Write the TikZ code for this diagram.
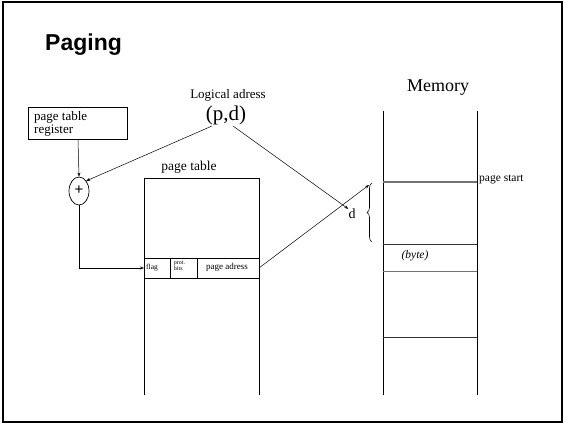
\documentclass[tikz,border=0pt]{standalone}
\usepackage{fontspec}
\setmainfont{Liberation Serif}
\newfontfamily\titlefont{Liberation Sans}
\usetikzlibrary{arrows.meta,decorations.pathreplacing,shapes.geometric}
\begin{document}
\begin{tikzpicture}[x=1pt,y=-1pt,
  line/.style={draw=black,line width=0.6pt},
  conn/.style={draw=black,line width=0.5pt,-{Stealth[length=4pt,width=3pt]}},
  lbl/.style={inner sep=0pt,font=\fontsize{#1}{#1}\selectfont},
  gline/.style={draw=black!55,line width=1.2pt}]
\useasboundingbox (0,0) rectangle (565,424);
% slide frame
\draw[line width=2pt] (3,2) rectangle (562,422);
\node[anchor=base west,inner sep=0pt,font=\titlefont\bfseries\fontsize{23}{23}\selectfont] (title) at (45,50) {Paging};

% page table register and adder
\node[line,draw,minimum width=99pt,minimum height=32pt,inner sep=0pt] (ptr) at (77.5,123) {};
\node[anchor=north west,align=left,inner sep=0pt,font=\fontsize{13}{13.5}\selectfont] (ptrtxt) at (34,111) {page table\\register};
\node[draw,line width=0.7pt,ellipse,minimum width=20pt,minimum height=28pt,inner sep=0pt] (plus) at (79,191) {};
\node[inner sep=0pt,font=\titlefont\fontsize{15}{15}\selectfont] (plussign) at (79,190) {+};

% logical address
\node[lbl=13] (logical) at (228,95) {Logical adress};
\node[lbl=21] (pd) at (226,115) {(p,d)};
\coordinate (pleft) at (212,126);
\coordinate (pright) at (233,126);

% page table
\coordinate (ptTL) at (144,178);
\coordinate (ptTR) at (259,178);
\coordinate (ptBL) at (144,395);
\coordinate (ptBR) at (259,395);
\draw[line] (ptBL) -- (ptTL) -- (ptTR) -- (ptBR);
\node[lbl=13.5] (pttitle) at (189,167) {page table};
\draw[line] (144,258) -- (259,258) (144,278) -- (259,278) (170,258) -- (170,278) (197,258) -- (197,278);
\node[lbl=7.5] (flag) at (152,268) {flag};
\node[align=left,inner sep=0pt,font=\fontsize{6}{6.5}\selectfont] (prot) at (179.5,266) {prot.\\bits};
\node[lbl=9] (padr) at (227,267) {page adress};
\coordinate (rowin) at (144,268);
\coordinate (rowout) at (259,268);

% memory
\draw[line] (383,111) -- (383,395) (477,111) -- (477,395);
\node[lbl=18] (memory) at (438,88) {Memory};
\draw[gline] (383,182) -- (477,182);
\draw[line,draw=black!80] (383,244) -- (477,244) (383,337) -- (477,337);
\draw[gline,line width=1pt] (383,271) -- (477,271);
\node[anchor=west,lbl=11.5] (pstart) at (479,179) {page start};
\node[inner sep=0pt,font=\itshape\fontsize{11.5}{11.5}\selectfont] (byte) at (415,256) {(byte)};
\draw[line width=0.6pt,decorate,decoration={brace,amplitude=5pt}] (372,242) -- (372,183);
\node[lbl=14] (dlab) at (352,214) {d};
\coordinate (memtarget) at (369,185);

% connectors
\draw[conn] (ptr.south -| 78,0) -- (plus.north);
\draw[conn] (pleft) -- (plus.north east);
\draw[conn] (pright) -- (dlab.north west);
\draw[conn] (plus.south) |- (rowin);
\draw[conn] (rowout) -- (memtarget);
\end{tikzpicture}
\end{document}
